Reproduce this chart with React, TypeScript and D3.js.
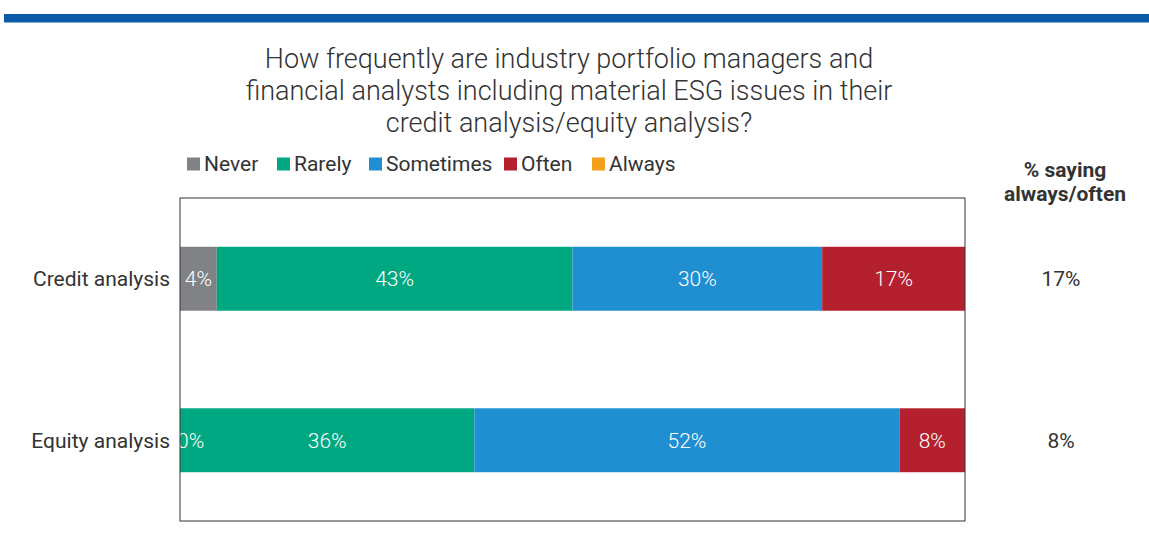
import React from "react";
import * as d3 from "d3";

const categories = ["Credit analysis", "Equity analysis"];
const seriesNames = ["Never", "Rarely", "Sometimes", "Often", "Always"];
const colors = ["#808285", "#00a882", "#1f8fd2", "#b5202e", "#f5a01a"];
const neverVals = [4.4, 0];
const rarelyVals = [42.6, 36];
const sometimesVals = [29.9, 52];
const oftenVals = [17.1, 8];
const alwaysVals = [0, 0];
const sayingLabels = ["17%", "8%"];
const titleLines = [
  "How frequently are industry portfolio managers and",
  "financial analysts including material ESG issues in their",
  "credit analysis/equity analysis?",
];

const W = 1149;
const H = 535;
const plot = { left: 180, right: 965, top: 198, bottom: 521 };
const FONT = "Roboto, 'Open Sans', sans-serif";
const FS = 21;

export default function App() {
  const rows = categories.map((c, i) => ({
    cat: c,
    vals: [neverVals[i], rarelyVals[i], sometimesVals[i], oftenVals[i], alwaysVals[i]],
  }));
  const y = d3
    .scaleBand<string>()
    .domain(categories)
    .range([plot.top, plot.bottom])
    .paddingInner(0.604)
    .paddingOuter(0.302);
  const x = d3.scaleLinear().domain([0, 1]).range([plot.left, plot.right]);

  const legendX = [187, 277, 369, 504, 592];

  return (
    <svg
      width={W}
      height={H}
      style={{ position: "absolute", left: 0, top: 0, display: "block", background: "#fff" }}
      fontFamily={FONT}
    >
      <defs>
        <clipPath id="plotclip">
          <rect x={plot.left} y={plot.top} width={plot.right - plot.left} height={plot.bottom - plot.top} />
        </clipPath>
      </defs>
      <rect x={4} y={14} width={W - 4} height={8.5} fill="#0a5aa8" />
      {titleLines.map((t, i) => (
        <text key={i} x={569} y={68 + i * 32} textAnchor="middle" fontSize={27} fontWeight={300} fill="#333">
          {t}
        </text>
      ))}
      {seriesNames.map((s, i) => (
        <g key={s}>
          <rect x={legendX[i]} y={157.5} width={13} height={13} fill={colors[i]} />
          <text x={legendX[i] + 17} y={164} dy="0.35em" fontSize={FS} fontWeight={400} fill="#333">
            {s}
          </text>
        </g>
      ))}
      <text x={1065} y={170} dy="0.35em" textAnchor="middle" fontSize={21} fontWeight={700} fill="#333">
        % saying
      </text>
      <text x={1065} y={194} dy="0.35em" textAnchor="middle" fontSize={21} fontWeight={700} fill="#333">
        always/often
      </text>
      {rows.map((r, ri) => {
        const total = d3.sum(r.vals);
        let acc = 0;
        const yy = y(r.cat)!;
        const bw = y.bandwidth();
        const segs = r.vals.map((v, si) => {
          const x0 = x(acc / total);
          acc += v;
          const x1 = x(acc / total);
          return { v, si, x0, x1 };
        });
        return (
          <g key={r.cat}>
            {segs.map((s) => (
              <rect key={s.si} x={s.x0} y={yy} width={s.x1 - s.x0} height={bw} fill={colors[s.si]} />
            ))}
            <g clipPath="url(#plotclip)">
              {segs
                .filter((s) => s.si < 4)
                .map((s) =>
                  s.v === 0 ? (
                    <text key={s.si} x={s.x0 - 3} y={yy + bw / 2} dy="0.35em" textAnchor="start" fontSize={FS} fontWeight={300} fill="#fff">
                      0%
                    </text>
                  ) : (
                    <text key={s.si} x={(s.x0 + s.x1) / 2} y={yy + bw / 2} dy="0.35em" textAnchor="middle" fontSize={FS} fontWeight={300} fill="#fff">
                      {Math.round(s.v)}%
                    </text>
                  )
                )}
            </g>
            <text x={170} y={yy + bw / 2} dy="0.35em" textAnchor="end" fontSize={FS} fontWeight={400} fill="#333">
              {r.cat}
            </text>
            <text x={1061} y={yy + bw / 2} dy="0.35em" textAnchor="middle" fontSize={FS} fontWeight={400} fill="#333">
              {sayingLabels[ri]}
            </text>
          </g>
        );
      })}
      <rect
        x={plot.left}
        y={plot.top}
        width={plot.right - plot.left}
        height={plot.bottom - plot.top}
        fill="none"
        stroke="#333"
        strokeWidth={1}
      />
    </svg>
  );
}
